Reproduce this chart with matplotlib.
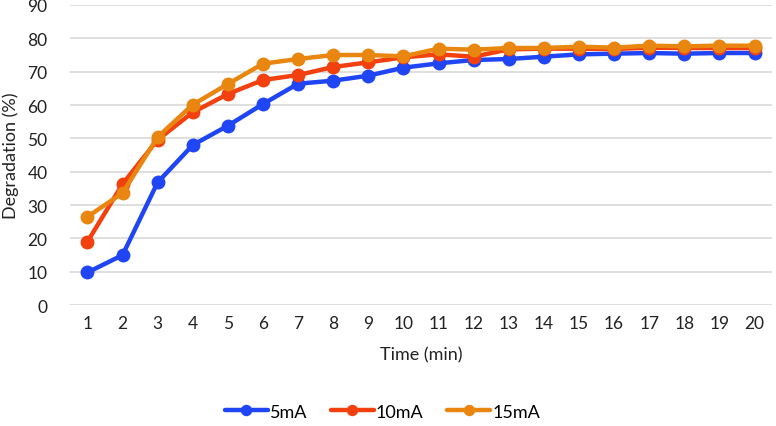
import matplotlib.pyplot as plt

# Degradation over time for three currents
time_min = list(range(1, 21))
deg_5mA = [9.8, 15.0, 36.8, 48.0, 53.8, 60.3, 66.4, 67.3, 68.8, 71.2,
           72.5, 73.5, 73.8, 74.5, 75.2, 75.4, 75.6, 75.4, 75.6, 75.6]
deg_10mA = [19.0, 36.3, 49.6, 57.8, 63.3, 67.5, 69.0, 71.4, 72.8, 74.3,
            75.2, 74.5, 76.7, 76.9, 76.9, 76.8, 77.2, 77.1, 77.1, 77.1]
deg_15mA = [26.5, 33.6, 50.4, 60.1, 66.3, 72.4, 73.8, 75.0, 75.0, 74.6,
            76.9, 76.6, 77.1, 77.1, 77.5, 77.2, 77.8, 77.6, 77.8, 77.8]

series = [("5mA", deg_5mA, "#1F45F5"),
          ("10mA", deg_10mA, "#F2400F"),
          ("15mA", deg_15mA, "#E8860F")]

plt.rcParams['font.family'] = ['Lato', 'DejaVu Sans']

fig = plt.figure(figsize=(7.76, 4.27), dpi=100)
ax = fig.add_axes([0.09, 0.283, 0.905, 0.703])

for label, vals, color in series:
    ax.plot(time_min, vals, color=color, lw=3.2, marker='o', ms=9,
            label=label, solid_capstyle='round')

ax.set_xlim(0.5, 20.5)
ax.set_ylim(0, 90)
ax.set_yticks(range(0, 91, 10))
ax.set_xticks(time_min)
ax.grid(axis='y', color='#D9D9D9', lw=1.2)
ax.set_axisbelow(True)
for s in ax.spines.values():
    s.set_visible(False)
ax.tick_params(length=0, labelsize=12.5, colors='#222222', pad=7)
ax.tick_params(axis='y', pad=16)
ax.set_xlabel('Time (min)', fontsize=13, color='#222222', labelpad=11)
ax.set_ylabel('Degradation (%)', fontsize=13, color='#222222', labelpad=6)

ax.legend(loc='center', bbox_to_anchor=(0.445, -0.355), ncol=3, frameon=False,
          fontsize=13, handlelength=2.4, columnspacing=1.3, handletextpad=0.1,
          markerscale=0.8)

fig.savefig('out.png', dpi=100)
